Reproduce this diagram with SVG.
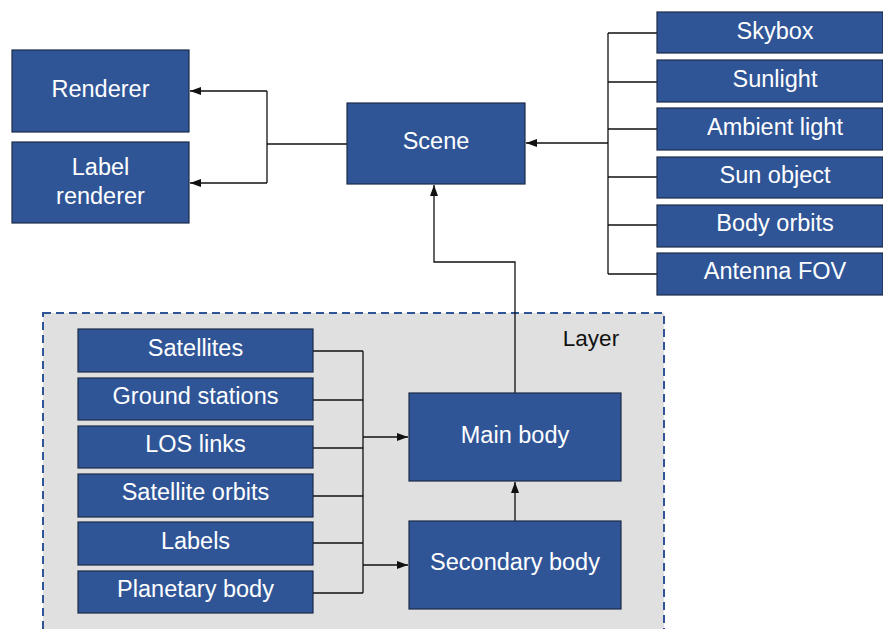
<svg xmlns="http://www.w3.org/2000/svg" width="883" height="629" viewBox="0 0 883 629">
<defs>
<style>
.box{fill:#2f5597;stroke:#1c2b48;stroke-width:1.2}
.t{fill:#ffffff;font-family:"Liberation Sans",Arial,sans-serif;font-size:23.5px;text-anchor:middle;dominant-baseline:central}
.c{fill:none;stroke:#111;stroke-width:1.3}
</style>
<marker id="ah" viewBox="0 0 11 8" refX="11" refY="4" markerWidth="11" markerHeight="8" markerUnits="userSpaceOnUse" orient="auto">
<path d="M0,0 L11,4 L0,8 Z" fill="#111"/>
</marker>
</defs>
<rect width="883" height="629" fill="#fff"/>
<g id="layer">
<rect x="43" y="313" width="621" height="330" fill="#e0e0e0" stroke="#2f5597" stroke-width="2" stroke-dasharray="8,5"/>
<text x="591" y="338" font-family="'Liberation Sans',Arial,sans-serif" font-size="22.5" fill="#111" text-anchor="middle" dominant-baseline="central">Layer</text>
</g>
<g id="connectors">
<path class="c" d="M347,144 H267 M267,91 V183 M267,91 H190" marker-end="url(#ah)"/>
<path class="c" d="M267,183 H190" marker-end="url(#ah)"/>
<path class="c" d="M608,33 V274 M608,33 H657 M608,82 H657 M608,129 H657 M608,177 H657 M608,225 H657 M608,274 H657"/>
<path class="c" d="M608,143 H526" marker-end="url(#ah)"/>
<path class="c" d="M515,393 V262 H434 V185" marker-end="url(#ah)"/>
<path class="c" d="M313,351 H363 M313,400 H363 M313,448 H363 M313,496 H363 M313,543 H363 M313,593 H363 M363,351 V593"/>
<path class="c" d="M363,437 H408" marker-end="url(#ah)"/>
<path class="c" d="M363,565 H408" marker-end="url(#ah)"/>
<path class="c" d="M515,521 V482" marker-end="url(#ah)"/>
</g>
<g id="renderer"><rect class="box" x="12" y="50" width="177" height="82"/><text class="t" x="100.5" y="89">Renderer</text></g>
<g id="label-renderer"><rect class="box" x="12" y="142" width="177" height="81"/><text class="t" x="100.5" y="167">Label</text><text class="t" x="100.5" y="196">renderer</text></g>
<g id="scene"><rect class="box" x="347" y="103" width="178" height="81"/><text class="t" x="436" y="141">Scene</text></g>
<g id="skybox"><rect class="box" x="657" y="12" width="226" height="41"/><text class="t" x="775" y="31">Skybox</text></g>
<g id="sunlight"><rect class="box" x="657" y="60" width="226" height="42"/><text class="t" x="775" y="79">Sunlight</text></g>
<g id="ambient-light"><rect class="box" x="657" y="108" width="226" height="42"/><text class="t" x="775" y="127">Ambient light</text></g>
<g id="sun-object"><rect class="box" x="657" y="157" width="226" height="41"/><text class="t" x="775" y="175">Sun object</text></g>
<g id="body-orbits"><rect class="box" x="657" y="205" width="226" height="42"/><text class="t" x="775" y="223">Body orbits</text></g>
<g id="antenna-fov"><rect class="box" x="657" y="253" width="226" height="42"/><text class="t" x="775" y="271">Antenna FOV</text></g>
<g id="satellites"><rect class="box" x="78" y="329" width="235" height="43"/><text class="t" x="195.5" y="348">Satellites</text></g>
<g id="ground-stations"><rect class="box" x="78" y="378" width="235" height="42"/><text class="t" x="195.5" y="396">Ground stations</text></g>
<g id="los-links"><rect class="box" x="78" y="426" width="235" height="42"/><text class="t" x="195.5" y="444">LOS links</text></g>
<g id="satellite-orbits"><rect class="box" x="78" y="474" width="235" height="43"/><text class="t" x="195.5" y="492">Satellite orbits</text></g>
<g id="labels"><rect class="box" x="78" y="522" width="235" height="43"/><text class="t" x="195.5" y="541">Labels</text></g>
<g id="planetary-body"><rect class="box" x="78" y="571" width="235" height="42"/><text class="t" x="195.5" y="589">Planetary body</text></g>
<g id="main-body"><rect class="box" x="409" y="393" width="212" height="88"/><text class="t" x="515" y="435">Main body</text></g>
<g id="secondary-body"><rect class="box" x="409" y="521" width="212" height="88"/><text class="t" x="515" y="562">Secondary body</text></g>
</svg>
